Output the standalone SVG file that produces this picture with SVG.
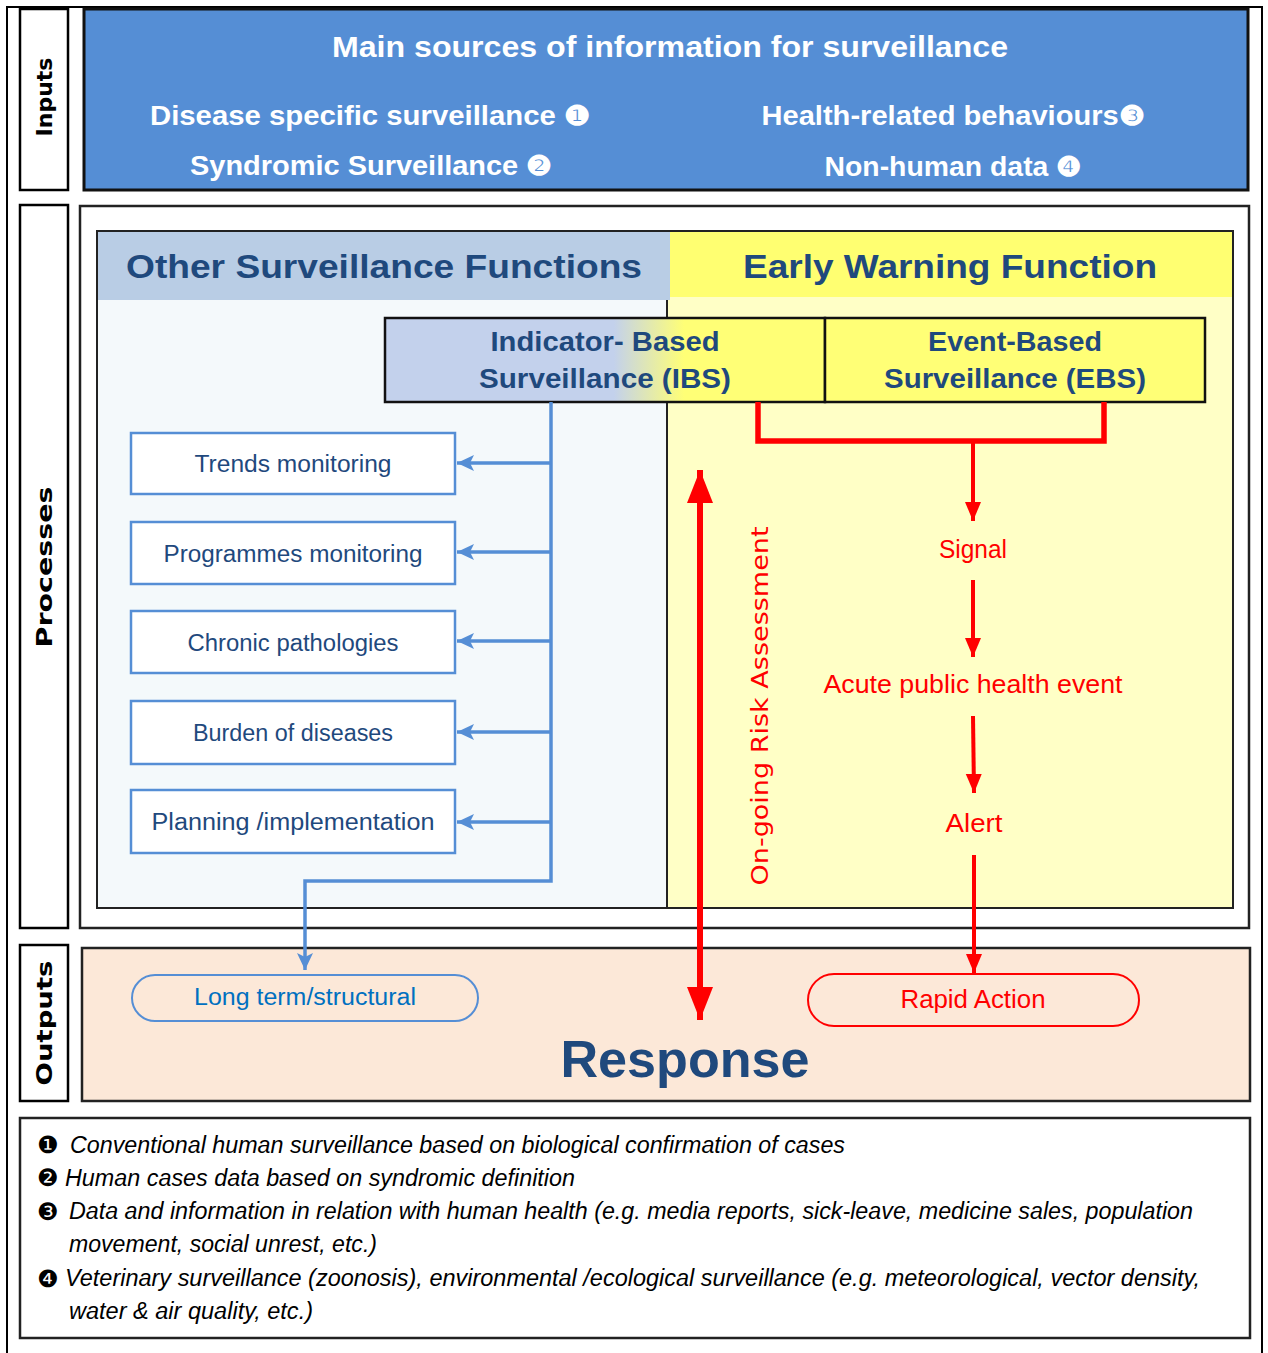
<svg xmlns="http://www.w3.org/2000/svg" width="1268" height="1353" viewBox="0 0 1268 1353">
<defs>
<linearGradient id="ibsGrad" x1="385" y1="0" x2="825" y2="0" gradientUnits="userSpaceOnUse">
<stop offset="0" stop-color="#C3D1EC"/>
<stop offset="0.52" stop-color="#C3D1EC"/>
<stop offset="0.68" stop-color="#FFFF76"/>
<stop offset="1" stop-color="#FFFF76"/>
</linearGradient>
<marker id="blueHead" markerUnits="userSpaceOnUse" markerWidth="18" markerHeight="18" viewBox="0 0 18 18" refX="17" refY="9" orient="auto">
<path d="M0,1 L17,9 L0,17 L4,9 Z" fill="#558ED5"/>
</marker>
<marker id="redHead" markerUnits="userSpaceOnUse" markerWidth="20" markerHeight="18" viewBox="0 0 20 18" refX="19" refY="9" orient="auto">
<path d="M0,1 L19,9 L0,17 Z" fill="#FF0000"/>
</marker>
<marker id="bigRedHead" markerUnits="userSpaceOnUse" markerWidth="34" markerHeight="26" viewBox="0 0 34 26" refX="33" refY="13" orient="auto">
<path d="M0,0 L33,13 L0,26 Z" fill="#FF0000"/>
</marker>
</defs>
<style>
.frame{fill:none;stroke:#000;stroke-width:2}
.side{fill:#fff;stroke:#000;stroke-width:2.5}
.sideT{font-family:"DejaVu Sans",sans-serif;font-weight:bold;font-size:22px;fill:#000;text-anchor:middle}
.hdrT{font-family:"Liberation Sans",Arial,sans-serif;font-weight:bold;fill:#fff;text-anchor:middle}
.panelT{font-family:"Liberation Sans",Arial,sans-serif;font-weight:bold;fill:#1F497D;text-anchor:middle}
.fn{fill:#fff;stroke:#558ED5;stroke-width:2.5}
.fnT{font-family:"Liberation Sans",Arial,sans-serif;font-size:23px;fill:#1F497D;text-anchor:middle}
.blue{fill:none;stroke:#558ED5;stroke-width:3.5}
.red{fill:none;stroke:#FF0000;stroke-width:4}
.redT{font-family:"Liberation Sans",Arial,sans-serif;font-size:25px;fill:#FF0000;text-anchor:middle}
.note{font-family:"Liberation Sans",Arial,sans-serif;font-style:italic;font-size:23px;fill:#000}
.num{font-family:"DejaVu Sans",sans-serif;font-size:24px;fill:#000}
</style>

<!-- outer frame -->
<path class="frame" d="M7,1353 L7,7 L1262,7 L1262,1353"/>

<!-- Inputs -->
<g id="inputs-label">
<rect class="side" x="20" y="9" width="48" height="181"/>
<text class="sideT" transform="translate(52,97) rotate(-90)">Inputs</text>
</g>
<g id="inputs-box">
<rect x="84" y="9" width="1164" height="181" fill="#558ED5" stroke="#111" stroke-width="3"/>
<text class="hdrT" x="670" y="57" font-size="30" textLength="676" lengthAdjust="spacingAndGlyphs">Main sources of information for surveillance</text>
<text class="hdrT" x="370" y="125" font-size="27" textLength="440" lengthAdjust="spacingAndGlyphs">Disease specific surveillance ❶</text>
<text class="hdrT" x="371" y="175" font-size="27" textLength="362" lengthAdjust="spacingAndGlyphs">Syndromic Surveillance ❷</text>
<text class="hdrT" x="953" y="125" font-size="27" textLength="383" lengthAdjust="spacingAndGlyphs">Health-related behaviours❸</text>
<text class="hdrT" x="953" y="176" font-size="27" textLength="257" lengthAdjust="spacingAndGlyphs">Non-human data ❹</text>
</g>

<!-- Processes -->
<g id="processes-label">
<rect class="side" x="20" y="205" width="48" height="723"/>
<text class="sideT" transform="translate(52,567) rotate(-90)" textLength="161" lengthAdjust="spacingAndGlyphs">Processes</text>
</g>
<g id="processes-box">
<rect x="80" y="206" width="1169" height="722" fill="#fff" stroke="#222" stroke-width="2.5"/>
<rect x="97" y="231" width="1136" height="677" fill="#F4F9FB" stroke="none"/>
<rect x="667" y="297" width="566" height="611" fill="#FFFFC6"/>
<rect x="97" y="231" width="573" height="69" fill="#B9CDE5"/>
<rect x="670" y="231" width="563" height="66" fill="#FFFF71"/>
<rect x="97" y="231" width="1136" height="677" fill="none" stroke="#222" stroke-width="2"/>
<line x1="667" y1="300" x2="667" y2="908" stroke="#222" stroke-width="2"/>
</g>
<g id="other-functions-title">
<text class="panelT" x="384" y="278" font-size="34" textLength="516" lengthAdjust="spacingAndGlyphs">Other Surveillance Functions</text>
</g>
<g id="early-warning-title">
<text class="panelT" x="950" y="278" font-size="34" textLength="414" lengthAdjust="spacingAndGlyphs">Early Warning Function</text>
</g>

<g id="ibs">
<rect x="385" y="318" width="440" height="84" fill="url(#ibsGrad)" stroke="#111" stroke-width="2.5"/>
<text class="panelT" x="605" y="351" font-size="27" textLength="229" lengthAdjust="spacingAndGlyphs">Indicator- Based</text>
<text class="panelT" x="605" y="388" font-size="27" textLength="252" lengthAdjust="spacingAndGlyphs">Surveillance (IBS)</text>
</g>
<g id="ebs">
<rect x="825" y="318" width="380" height="84" fill="#FFFF76" stroke="#111" stroke-width="2.5"/>
<text class="panelT" x="1015" y="351" font-size="27" textLength="174" lengthAdjust="spacingAndGlyphs">Event-Based</text>
<text class="panelT" x="1015" y="388" font-size="27" textLength="262" lengthAdjust="spacingAndGlyphs">Surveillance (EBS)</text>
</g>

<g id="trends-monitoring">
<rect class="fn" x="131" y="433" width="324" height="61"/>
<text class="fnT" x="293" y="472" textLength="197" lengthAdjust="spacingAndGlyphs">Trends monitoring</text>
</g>
<g id="programmes-monitoring">
<rect class="fn" x="131" y="522" width="324" height="62"/>
<text class="fnT" x="293" y="562" textLength="259" lengthAdjust="spacingAndGlyphs">Programmes monitoring</text>
</g>
<g id="chronic-pathologies">
<rect class="fn" x="131" y="611" width="324" height="62"/>
<text class="fnT" x="293" y="651" textLength="211" lengthAdjust="spacingAndGlyphs">Chronic pathologies</text>
</g>
<g id="burden-of-diseases">
<rect class="fn" x="131" y="701" width="324" height="63"/>
<text class="fnT" x="293" y="741" textLength="200" lengthAdjust="spacingAndGlyphs">Burden of diseases</text>
</g>
<g id="planning-implementation">
<rect class="fn" x="131" y="790" width="324" height="63"/>
<text class="fnT" x="293" y="830" textLength="283" lengthAdjust="spacingAndGlyphs">Planning /implementation</text>
</g>

<g id="signal"><text class="redT" x="973" y="558" textLength="68" lengthAdjust="spacingAndGlyphs">Signal</text></g>
<g id="acute-event"><text class="redT" x="973" y="693" textLength="299" lengthAdjust="spacingAndGlyphs">Acute public health event</text></g>
<g id="alert"><text class="redT" x="974" y="832" textLength="57" lengthAdjust="spacingAndGlyphs">Alert</text></g>
<g id="risk-assessment-label">
<text font-family="DejaVu Sans, sans-serif" font-size="23" fill="#FF0000" text-anchor="middle" transform="translate(768,706) rotate(-90)" textLength="359" lengthAdjust="spacingAndGlyphs">On-going Risk Assessment</text>
</g>

<!-- Outputs -->
<g id="outputs-label">
<rect class="side" x="20" y="945" width="48" height="156"/>
<text class="sideT" transform="translate(52,1023) rotate(-90)" textLength="125" lengthAdjust="spacingAndGlyphs">Outputs</text>
</g>
<g id="outputs-box">
<rect x="82" y="948" width="1168" height="153" fill="#FCE8D8" stroke="#222" stroke-width="2.5"/>
<text class="panelT" x="685" y="1077" font-size="52" textLength="249" lengthAdjust="spacingAndGlyphs">Response</text>
</g>
<g id="long-term">
<rect x="132" y="975" width="346" height="46" rx="23" ry="23" fill="none" stroke="#558ED5" stroke-width="2"/>
<text font-family="Liberation Sans, Arial, sans-serif" font-size="23" fill="#0070C0" text-anchor="middle" x="305" y="1005" textLength="222" lengthAdjust="spacingAndGlyphs">Long term/structural</text>
</g>
<g id="rapid-action">
<rect x="808" y="974" width="331" height="52" rx="26" ry="26" fill="none" stroke="#FF0000" stroke-width="2"/>
<text class="redT" x="973" y="1008" textLength="145" lengthAdjust="spacingAndGlyphs">Rapid Action</text>
</g>

<!-- connectors -->
<g id="connectors">
<path class="blue" d="M551,402 L551,881 L305,881 L305,970" marker-end="url(#blueHead)"/>
<line class="blue" x1="551" y1="463" x2="457" y2="463" marker-end="url(#blueHead)"/>
<line class="blue" x1="551" y1="552" x2="457" y2="552" marker-end="url(#blueHead)"/>
<line class="blue" x1="551" y1="641" x2="457" y2="641" marker-end="url(#blueHead)"/>
<line class="blue" x1="551" y1="732" x2="457" y2="732" marker-end="url(#blueHead)"/>
<line class="blue" x1="551" y1="822" x2="457" y2="822" marker-end="url(#blueHead)"/>
<path d="M758,402 L758,441 L1104,441 L1104,402" fill="none" stroke="#FF0000" stroke-width="5.5"/>
<line class="red" x1="973" y1="441" x2="973" y2="521" marker-end="url(#redHead)"/>
<line class="red" x1="973" y1="580" x2="973" y2="657" marker-end="url(#redHead)"/>
<line class="red" x1="973" y1="716" x2="974" y2="793" marker-end="url(#redHead)"/>
<line class="red" x1="974" y1="855" x2="974" y2="973" marker-end="url(#redHead)"/>
<line x1="700" y1="745" x2="700" y2="470" stroke="#FF0000" stroke-width="6" marker-end="url(#bigRedHead)"/>
<line x1="700" y1="745" x2="700" y2="1020" stroke="#FF0000" stroke-width="6" marker-end="url(#bigRedHead)"/>
</g>

<!-- footnotes -->
<g id="footnotes">
<rect x="20" y="1118" width="1230" height="220" fill="#fff" stroke="#222" stroke-width="2.5"/>
<text class="num" x="37" y="1153">❶</text>
<text class="note" x="70" y="1153" textLength="775" lengthAdjust="spacingAndGlyphs">Conventional human surveillance based on biological confirmation of cases</text>
<text class="num" x="37" y="1186">❷</text>
<text class="note" x="65" y="1186" textLength="510" lengthAdjust="spacingAndGlyphs">Human cases data based on syndromic definition</text>
<text class="num" x="37" y="1220">❸</text>
<text class="note" x="69" y="1219" textLength="1124" lengthAdjust="spacingAndGlyphs">Data and information in relation with human health (e.g. media reports, sick-leave, medicine sales, population</text>
<text class="note" x="69" y="1252" textLength="308" lengthAdjust="spacingAndGlyphs">movement, social unrest, etc.)</text>
<text class="num" x="37" y="1287">❹</text>
<text class="note" x="65" y="1286" textLength="1135" lengthAdjust="spacingAndGlyphs">Veterinary surveillance (zoonosis), environmental /ecological surveillance (e.g. meteorological,  vector density,</text>
<text class="note" x="69" y="1319" textLength="244" lengthAdjust="spacingAndGlyphs">water &amp; air quality, etc.)</text>
</g>
</svg>
